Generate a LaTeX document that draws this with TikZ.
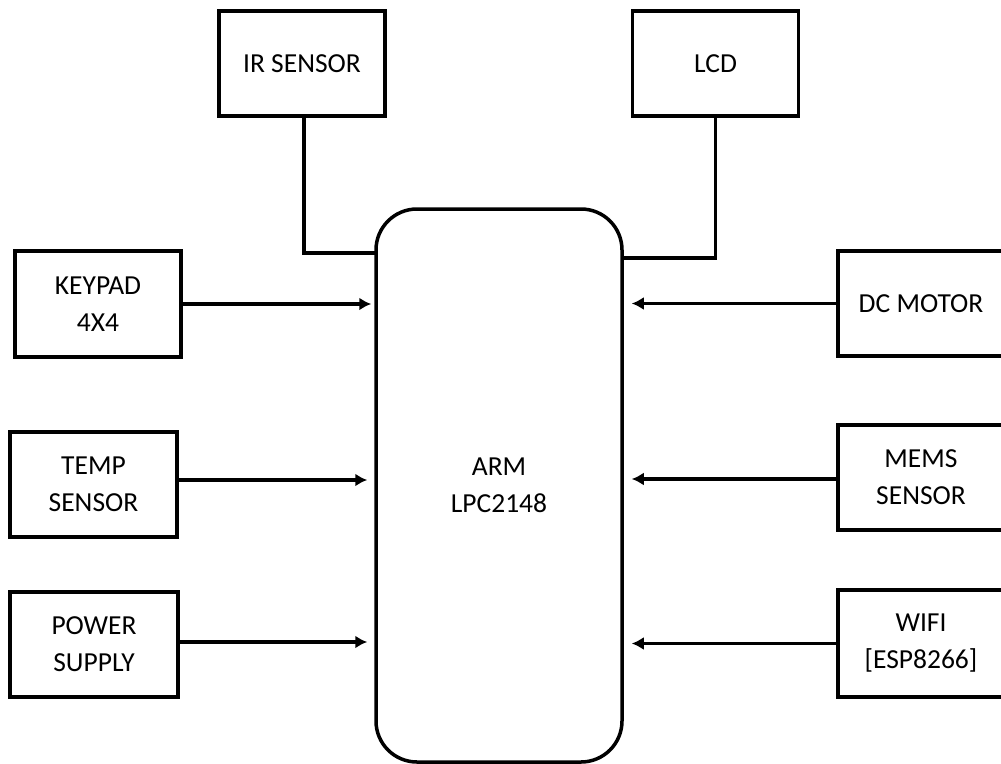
\documentclass[tikz,border=0pt]{standalone}
\usepackage{fontspec}
\setmainfont{Carlito}
\usetikzlibrary{arrows.meta,calc}
\begin{document}
\begin{tikzpicture}[x=1pt,y=-1pt,
  blk/.style={draw,line width=3.5pt,minimum width=166pt,minimum height=105pt,align=center,inner sep=0pt,font=\fontsize{27.5}{37}\selectfont},
  conn/.style={line width=3.5pt},
  arr/.style={line width=3.5pt,-{Latex[length=12pt,width=13pt]}},
]
\useasboundingbox (0,0) rectangle (1001,763);
\fill[white] (0,0) rectangle (1001,763);
\node[blk,minimum width=246pt,minimum height=553pt,rounded corners=41pt] (arm) at (499,485.5) {ARM\\LPC2148};
\node[blk] (ir) at (302,63.5) {IR SENSOR};
\node[blk] (lcd) at (715.5,63.5) {LCD};
\node[blk,minimum height=106pt] (keypad) at (98,304) {KEYPAD\\4X4};
\node[blk,minimum width=167pt] (temp) at (93.5,484.5) {TEMP\\SENSOR};
\node[blk,minimum width=168pt] (power) at (94,644.5) {POWER\\SUPPLY};
\node[blk] (dc) at (921,303.5) {DC MOTOR};
\node[blk] (mems) at (921,477.5) {MEMS\\SENSOR};
\node[blk,minimum height=107pt] (wifi) at (921,643.5) {WIFI\\{[ESP8266]}};
\coordinate (irj) at (376,253);
\coordinate (lcdj) at (622,258);
\coordinate (ta) at ([yshift=4.5pt]temp.east);
\coordinate (pa) at ([yshift=2.5pt]power.east);
\coordinate (ma) at ([yshift=-1.5pt]mems.west);
\draw[conn] ([xshift=2pt]ir.south) |- (irj);
\draw[conn] (lcd.south) |- (lcdj);
\draw[arr,shorten >=3pt] (keypad.east) -- (arm.west |- keypad.east);
\draw[arr,shorten >=7pt] (ta) -- (arm.west |- ta);
\draw[arr,shorten >=7pt] (pa) -- (arm.west |- pa);
\draw[arr,shorten >=8pt] (dc.west) -- (arm.east |- dc.west);
\draw[arr,shorten >=8pt] (ma) -- (arm.east |- ma);
\draw[arr,shorten >=8pt] (wifi.west) -- (arm.east |- wifi.west);
\end{tikzpicture}
\end{document}
